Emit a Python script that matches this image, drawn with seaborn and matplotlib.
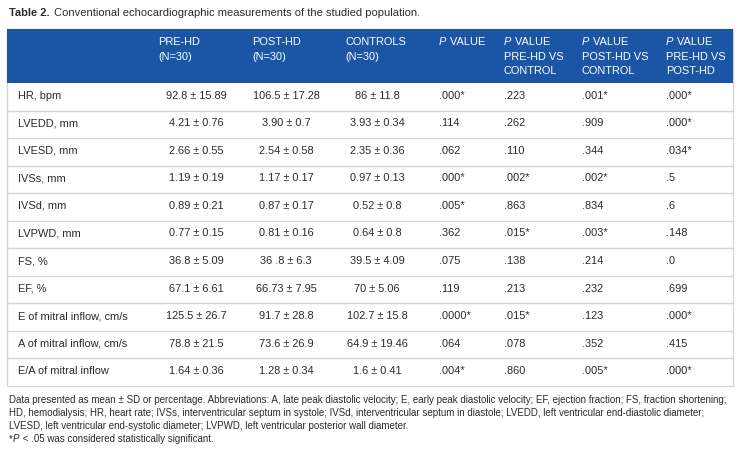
import seaborn as sns
import matplotlib.pyplot as plt
from matplotlib.patches import Rectangle

# table content
params = ["HR, bpm", "LVEDD, mm", "LVESD, mm", "IVSs, mm", "IVSd, mm", "LVPWD, mm",
          "FS, %", "EF, %", "E of mitral inflow, cm/s", "A of mitral inflow, cm/s",
          "E/A of mitral inflow"]
pre_hd = ["92.8 ± 15.89", "4.21 ± 0.76", "2.66 ± 0.55", "1.19 ± 0.19", "0.89 ± 0.21",
          "0.77 ± 0.15", "36.8 ± 5.09", "67.1 ± 6.61", "125.5 ± 26.7", "78.8 ± 21.5",
          "1.64 ± 0.36"]
post_hd = ["106.5 ± 17.28", "3.90 ± 0.7", "2.54 ± 0.58", "1.17 ± 0.17", "0.87 ± 0.17",
           "0.81 ± 0.16", "36 .8 ± 6.3", "66.73 ± 7.95", "91.7 ± 28.8", "73.6 ± 26.9",
           "1.28 ± 0.34"]
controls = ["86 ± 11.8", "3.93 ± 0.34", "2.35 ± 0.36", "0.97 ± 0.13", "0.52 ± 0.8",
            "0.64 ± 0.8", "39.5 ± 4.09", "70 ± 5.06", "102.7 ± 15.8", "64.9 ± 19.46",
            "1.6 ± 0.41"]
p_all = [".000*", ".114", ".062", ".000*", ".005*", ".362", ".075", ".119", ".0000*",
         ".064", ".004*"]
p_pre_ctrl = [".223", ".262", ".110", ".002*", ".863", ".015*", ".138", ".213", ".015*",
              ".078", ".860"]
p_post_ctrl = [".001*", ".909", ".344", ".002*", ".834", ".003*", ".214", ".232", ".123",
               ".352", ".005*"]
p_pre_post = [".000*", ".000*", ".034*", ".5", ".6", ".148", ".0", ".699", ".000*",
              ".415", ".000*"]

# header lines; a leading "P" on a line is set in italics
headers = [[], ["PRE-HD", "(N=30)"], ["POST-HD", "(N=30)"], ["CONTROLS", "(N=30)"],
           ["P VALUE"], ["P VALUE", "PRE-HD VS", "CONTROL"],
           ["P VALUE", "POST-HD VS", "CONTROL"], ["P VALUE", "PRE-HD VS", "POST-HD"]]

title_bold = "Table 2."
title_rest = "Conventional echocardiographic measurements of the studied population."
notes = [
    "Data presented as mean ± SD or percentage. Abbreviations: A, late peak diastolic velocity; "
    "E, early peak diastolic velocity; EF, ejection fraction; FS, fraction shortening;",
    "HD, hemodialysis; HR, heart rate; IVSs, interventricular septum in systole; IVSd, "
    "interventricular septum in diastole; LVEDD, left ventricular end-diastolic diameter;",
    "LVESD, left ventricular end-systolic diameter; LVPWD, left ventricular posterior wall diameter.",
]
sig_note = ["*", "P", " < .05 was considered statistically significant."]

sns.set_theme(style="white")
plt.rcParams["font.family"] = ["Liberation Sans", "DejaVu Sans"]

blue = "#1a56a5"
grid = "#d6d6d6"
ink = "#2b2b2b"

fig = plt.figure(figsize=(7.42, 4.5), dpi=100)
ax = fig.add_axes([0, 0, 1, 1])
ax.set_xlim(0, 742)
ax.set_ylim(450, 0)
ax.axis("off")
fig.canvas.draw()


def width_px(txt):
    return txt.get_window_extent(renderer=fig.canvas.get_renderer()).width


def italic_p_line(x, y, rest, **kw):
    p = ax.text(x, y, "P", style="italic", **kw)
    ax.text(x + width_px(p) + 1, y, rest, **kw)


# box geometry (pixels)
left, right = 7, 733
top, head_bottom, bottom = 29, 83, 386
row_h = (bottom - head_bottom) / len(params)

ax.add_patch(Rectangle((left, top), right - left, bottom - top, facecolor="white",
                       edgecolor=grid, lw=1))
ax.add_patch(Rectangle((left, top), right - left, head_bottom - top, facecolor=blue,
                       edgecolor="none"))
for i in range(1, len(params)):
    y = head_bottom + i * row_h
    ax.plot([left, right], [y, y], color=grid, lw=1)

# title
t = ax.text(9, 13, title_bold, fontsize=8, fontweight="bold", color=ink, va="center")
ax.text(9 + width_px(t) + 4, 13, title_rest, fontsize=8, color=ink, va="center")

# header
fs = 7.9
head_x = [18, 158, 252, 345, 439, 504, 582, 666]
head_y = [42, 56.5, 71]
for x, lines in zip(head_x, headers):
    for y, line in zip(head_y, lines):
        kw = dict(color="white", fontsize=fs, va="center", ha="left")
        if line.startswith("P VALUE"):
            italic_p_line(x, y, line[1:], **kw)
        else:
            ax.text(x, y, line, **kw)

# body
centers = [196, 286, 377]
pcols = [439, 504, 582, 666]
for i, name in enumerate(params):
    y = head_bottom + (i + 0.5) * row_h - 1
    ax.text(18, y, name, fontsize=fs, color=ink, va="center")
    for cx, col in zip(centers, [pre_hd, post_hd, controls]):
        ax.text(cx, y, col[i], fontsize=fs, color=ink, va="center", ha="center")
    for px, col in zip(pcols, [p_all, p_pre_ctrl, p_post_ctrl, p_pre_post]):
        ax.text(px, y, col[i], fontsize=fs, color=ink, va="center", ha="left")

# footnotes, first line fitted to the box width
note_y = [400, 413, 426, 439]
nt = ax.text(9, note_y[0], notes[0], fontsize=7, color=ink, va="center")
nfs = 7 * 718 / width_px(nt)
nt.set_fontsize(nfs)
for y, line in zip(note_y[1:3], notes[1:]):
    ax.text(9, y, line, fontsize=nfs, color=ink, va="center")
star = ax.text(9, note_y[3], sig_note[0], fontsize=nfs, color=ink, va="center")
italic_p_line(9 + width_px(star), note_y[3], sig_note[2], fontsize=nfs, color=ink,
              va="center")

fig.savefig("out.png", dpi=100, facecolor="white")
